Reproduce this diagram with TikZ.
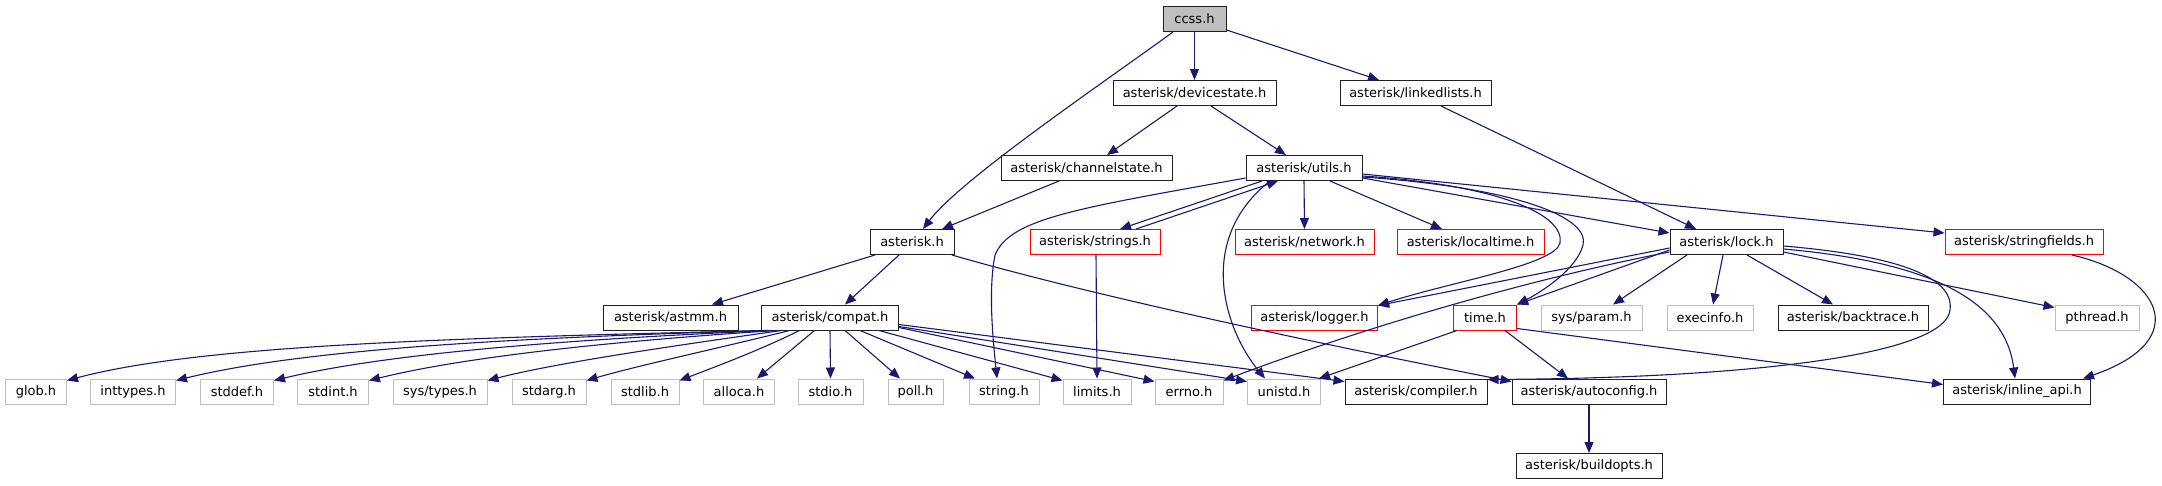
\documentclass[tikz,border=0pt]{standalone}
\usepackage{fontspec}
\setmainfont{DejaVu Sans}
\usetikzlibrary{arrows.meta}

\begin{document}
\begin{tikzpicture}[x=1pt,y=-1pt, every node/.style={inner sep=0pt}]
\definecolor{ec}{HTML}{191970}\definecolor{rc}{HTML}{FF0000}
\definecolor{gc}{HTML}{BFBFBF}\definecolor{bc}{HTML}{202020}
\tikzset{
  hbox/.style={draw=bc, line width=1pt, minimum height=25pt, anchor=center, font=\fontsize{13}{15}\selectfont},
  trunc/.style={hbox, draw=rc},
  sysh/.style={hbox, draw=gc},
  inc/.style={draw=ec, line width=1.1pt, -{Triangle[length=11pt,width=9pt]}}
}
\useasboundingbox (0,0) rectangle (2162,485);
% rank 1 to 4
\node[hbox, fill=gc, minimum width=63pt] (ccss) at (1194.5,19) {ccss.h};
\node[hbox, minimum width=163pt] (devicestate) at (1194.5,93) {asterisk/devicestate.h};
\node[hbox, minimum width=151pt] (linkedlists) at (1415.5,93) {asterisk/linkedlists.h};
\node[hbox, minimum width=171pt] (channelstate) at (1086.5,168) {asterisk/channelstate.h};
\node[hbox, minimum width=116pt] (utils) at (1304,168) {asterisk/utils.h};
\node[hbox, minimum width=84pt] (asterisk) at (912,242) {asterisk.h};
\node[trunc, minimum width=130pt] (strings) at (1095,242) {asterisk/strings.h};
\node[trunc, minimum width=139pt] (network) at (1304.5,242) {asterisk/network.h};
\node[trunc, minimum width=147pt] (localtime) at (1470.5,242) {asterisk/localtime.h};
\node[hbox, minimum width=113pt] (lock) at (1726.5,242) {asterisk/lock.h};
\node[trunc, minimum width=158pt] (stringfields) at (2024,242) {asterisk/stringfields.h};
% rank 5
\node[hbox, minimum width=135pt] (astmm) at (670.5,317.5) {asterisk/astmm.h};
\node[hbox, minimum width=137pt] (compat) at (830,317.5) {asterisk/compat.h};
\node[trunc, minimum width=126pt] (logger) at (1314.5,317.5) {asterisk/logger.h};
\node[trunc, minimum width=63pt] (time) at (1485,317.5) {time.h};
\node[sysh, minimum width=101pt] (sysparam) at (1591.5,317.5) {sys/param.h};
\node[sysh, minimum width=86pt] (execinfo) at (1710,317.5) {execinfo.h};
\node[hbox, minimum width=150pt] (backtrace) at (1853,317.5) {asterisk/backtrace.h};
\node[sysh, minimum width=84pt] (pthread) at (2097,317.5) {pthread.h};
% rank 6 and 7
\node[sysh, minimum width=61pt] (glob) at (36,391.5) {glob.h};
\node[sysh, minimum width=85pt] (inttypes) at (133,391.5) {inttypes.h};
\node[sysh, minimum width=73pt] (stddef) at (237,391.5) {stddef.h};
\node[sysh, minimum width=71pt] (stdint) at (333,391.5) {stdint.h};
\node[sysh, minimum width=94pt] (systypes) at (440,391.5) {sys/types.h};
\node[sysh, minimum width=74pt] (stdarg) at (549,391.5) {stdarg.h};
\node[sysh, minimum width=68pt] (stdlib) at (645,391.5) {stdlib.h};
\node[sysh, minimum width=71pt] (alloca) at (739,391.5) {alloca.h};
\node[sysh, minimum width=65pt] (stdio) at (830.5,391.5) {stdio.h};
\node[sysh, minimum width=55pt] (poll) at (915.5,391.5) {poll.h};
\node[sysh, minimum width=70pt] (string) at (1004,391.5) {string.h};
\node[sysh, minimum width=68pt] (limits) at (1097,391.5) {limits.h};
\node[sysh, minimum width=68pt] (errno) at (1189,391.5) {errno.h};
\node[sysh, minimum width=73pt] (unistd) at (1284,391.5) {unistd.h};
\node[hbox, minimum width=142pt] (compiler) at (1416,391.5) {asterisk/compiler.h};
\node[hbox, minimum width=154pt] (autoconfig) at (1589,391.5) {asterisk/autoconfig.h};
\node[hbox, minimum width=147pt] (inlineapi) at (2017,391.5) {asterisk/inline\_api.h};
\node[hbox, minimum width=146pt] (buildopts) at (1589,466) {asterisk/buildopts.h};
% ccss.h and the upper ranks
\draw[inc] ([xshift=-21.5pt]ccss.south) .. controls (1100,85) and (960,180) .. ([xshift=11pt]asterisk.north);
\draw[inc] (ccss.south) -- (devicestate.north);
\draw[inc] ([yshift=2pt]ccss.south east) -- ([xshift=-36.5pt]linkedlists.north);
\draw[inc] ([xshift=-17.5pt]devicestate.south) -- ([xshift=20.5pt]channelstate.north);
\draw[inc] ([xshift=16.5pt]devicestate.south) -- ([xshift=-18pt]utils.north);
\draw[inc] ([xshift=25.5pt]linkedlists.south) -- ([xshift=-30.5pt]lock.north);
\draw[inc] ([xshift=-27.5pt]channelstate.south) -- ([xshift=30pt]asterisk.north);
% utils.h
\draw[inc] (utils.south) -- (network.north);
\draw[inc] ([xshift=26pt]utils.south) -- ([xshift=-28.5pt]localtime.north);
\draw[inc] ([yshift=-10pt]utils.east) -- ([yshift=-4pt]lock.north west);
\draw[inc] ([yshift=-6pt]utils.east) -- ([yshift=-4pt]stringfields.north west);
\draw[inc] ([yshift=-8pt]utils.east) .. controls (1500,185) and (1565,215) .. (1560,243) .. controls (1555,265) and (1450,282) .. ([yshift=-1pt]logger.north east);
\draw[inc] ([yshift=-9pt]utils.east) .. controls (1520,188) and (1590,218) .. (1583,245) .. controls (1577,268) and (1545,290) .. (time.north east);
\draw[inc] ([xshift=-42pt]utils.south) -- ([xshift=25pt]strings.north);
\draw[inc] ([xshift=41pt]strings.north) -- ([xshift=-26pt]utils.south);
\draw[inc] ([yshift=-10pt]utils.west) .. controls (1080,208) and (1010,218) .. (995,255) .. controls (988,290) and (993,340) .. ([xshift=-7pt]string.north);
\draw[inc] ([xshift=-34pt]utils.south) .. controls (1195,240) and (1225,330) .. ([xshift=-19pt]unistd.north);
% lock.h
\draw[inc] ([yshift=-6pt]lock.west) -- ([yshift=-1pt]logger.north east);
\draw[inc] ([yshift=-8pt]lock.west) -- (time.north east);
\draw[inc] ([yshift=-10pt]lock.west) .. controls (1500,285) and (1330,340) .. ([yshift=-2pt]errno.north east);
\draw[inc] ([xshift=-39.5pt]lock.south) -- ([xshift=21.5pt]sysparam.north);
\draw[inc] ([xshift=-3.5pt]lock.south) -- ([xshift=3pt]execinfo.north);
\draw[inc] ([xshift=20.5pt]lock.south) -- ([xshift=-20pt]backtrace.north);
\draw[inc] ([yshift=-10pt]lock.east) -- ([yshift=-3pt]pthread.north west);
\draw[inc] ([yshift=-7pt]lock.east) .. controls (1930,262) and (2005,300) .. ([xshift=-2pt]inlineapi.north);
\draw[inc] ([yshift=-4pt]lock.east) .. controls (1890,255) and (1955,275) .. (1950,310) .. controls (1945,355) and (1750,378) .. ([yshift=-1pt]compiler.north east);
\draw[inc] ([xshift=48pt]stringfields.south) .. controls (2160,275) and (2195,340) .. ([xshift=66pt]inlineapi.north);
% time.h, asterisk.h, strings.h
\draw[inc] ([xshift=4pt]time.south west) -- ([xshift=-2pt]unistd.north east);
\draw[inc] ([xshift=20pt]time.south) -- ([xshift=-21pt]autoconfig.north);
\draw[inc] ([yshift=2pt]time.south east) -- ([yshift=-6pt]inlineapi.north west);
\draw[inc] ([xshift=-37pt]asterisk.south) -- ([xshift=41.5pt]astmm.north);
\draw[inc] ([xshift=-13pt]asterisk.south) -- ([xshift=15pt]compat.north);
\draw[inc] ([xshift=40pt]asterisk.south) .. controls (1100,298) and (1350,350) .. ([yshift=-3pt]autoconfig.north west);
\draw[inc] ([xshift=1pt]strings.south) -- (limits.north);
% compat.h
\draw[inc] ([xshift=3.5pt]compat.south west) .. controls (450,338) and (200,345) .. ([yshift=-2pt]glob.north east);
\draw[inc] ([xshift=6.5pt]compat.south west) .. controls (500,338) and (300,350) .. ([yshift=-2pt]inttypes.north east);
\draw[inc] ([xshift=10.5pt]compat.south west) .. controls (550,340) and (380,355) .. ([yshift=-2pt]stddef.north east);
\draw[inc] ([xshift=14.5pt]compat.south west) .. controls (600,342) and (460,358) .. ([yshift=-2pt]stdint.north east);
\draw[inc] ([xshift=20.5pt]compat.south west) .. controls (680,345) and (560,362) .. ([yshift=-2pt]systypes.north east);
\draw[inc] ([xshift=28.5pt]compat.south west) .. controls (720,348) and (640,365) .. ([yshift=-2pt]stdarg.north east);
\draw[inc] ([xshift=38.5pt]compat.south west) .. controls (760,350) and (720,365) .. ([yshift=-2pt]stdlib.north east);
\draw[inc] ([xshift=53.5pt]compat.south west) -- ([xshift=18pt]alloca.north);
\draw[inc] (compat.south) -- (stdio.north);
\draw[inc] ([xshift=15pt]compat.south) -- ([xshift=-15.5pt]poll.north);
\draw[inc] ([xshift=30pt]compat.south) -- ([xshift=-29pt]string.north);
\draw[inc] ([xshift=49pt]compat.south) -- ([yshift=-2pt]limits.north west);
\draw[inc] ([yshift=-10pt]compat.east) -- ([yshift=-3pt]errno.north west);
\draw[inc] ([yshift=-9pt]compat.east) -- ([yshift=-3pt]unistd.north west);
\draw[inc] ([yshift=-7pt]compat.east) -- ([yshift=-3pt]compiler.north west);
\draw[inc] (autoconfig.south) -- (buildopts.north);
\end{tikzpicture}
\end{document}
